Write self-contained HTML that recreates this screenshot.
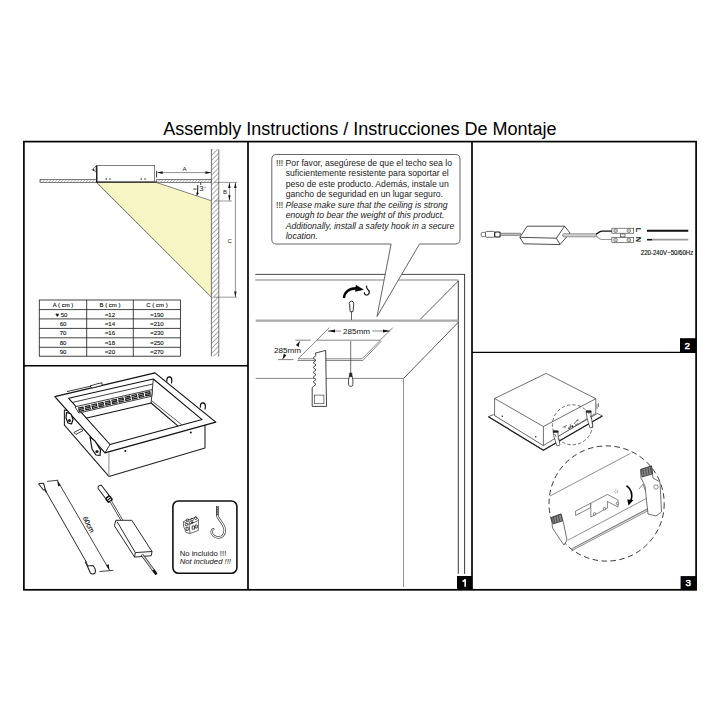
<!DOCTYPE html>
<html><head><meta charset="utf-8"><title>Assembly Instructions</title>
<style>
html,body{margin:0;padding:0;background:#fff;width:720px;height:720px;overflow:hidden}
svg{display:block}
text{font-family:"Liberation Sans",sans-serif}
</style></head><body>
<svg width="720" height="720" viewBox="0 0 720 720">
<defs>
<pattern id="hatch" patternUnits="userSpaceOnUse" width="3.5" height="3.5" patternTransform="rotate(45)">
<line x1="0" y1="0" x2="0" y2="3.5" stroke="#333" stroke-width="0.8"/>
</pattern>
<pattern id="hatch2" patternUnits="userSpaceOnUse" width="2.2" height="2.2" patternTransform="rotate(45)">
<line x1="0" y1="0" x2="0" y2="3" stroke="#666" stroke-width="0.8"/>
</pattern>
</defs>

<!-- Title -->
<text x="163.3" y="135" font-size="18" fill="#000">Assembly Instructions / Instrucciones De Montaje</text>

<!-- ============ PANEL TL ============ -->
<g id="tl">
<!-- ceiling slab -->
<rect x="40" y="179.4" width="56.5" height="3" fill="url(#hatch2)" stroke="#555" stroke-width="0.75"/>
<rect x="156.7" y="179.4" width="54.5" height="3" fill="url(#hatch2)" stroke="#555" stroke-width="0.75"/>
<!-- light cone -->
<polygon points="96.7,182.6 156.7,182.6 211.2,200.7 211.2,297" fill="#F6F5C3"/>
<line x1="96.7" y1="182.6" x2="211.2" y2="297" stroke="#444" stroke-width="0.75"/>
<line x1="156.7" y1="182.6" x2="211.2" y2="200.7" stroke="#555" stroke-width="0.7"/>
<!-- box -->
<rect x="96.5" y="165.5" width="58.2" height="16.6" fill="#fff" stroke="#444" stroke-width="0.7"/>
<line x1="96.8" y1="166" x2="96.8" y2="182.5" stroke="#111" stroke-width="1.3"/>
<line x1="96" y1="182.2" x2="157" y2="182.2" stroke="#222" stroke-width="1.2"/>
<path d="M96,166 L92.5,169.5 L96,172 Z" fill="none" stroke="#333" stroke-width="0.6"/>
<circle cx="93.5" cy="170" r="0.9" fill="#222"/>
<g fill="#222"><circle cx="106.2" cy="179" r="0.75"/><circle cx="110" cy="179" r="0.75"/><circle cx="141.2" cy="179" r="0.75"/><circle cx="145" cy="179" r="0.75"/></g>
<!-- wall -->
<rect x="211.4" y="149.2" width="7.4" height="207.2" fill="url(#hatch)"/>
<path d="M211.4,149.2 V356.4 M218.8,149.2 V356.4" stroke="#555" stroke-width="0.8"/>
<!-- dimension A -->
<line x1="156.6" y1="170.8" x2="156.6" y2="177.5" stroke="#222" stroke-width="0.9"/>
<line x1="157.5" y1="172.6" x2="211" y2="172.6" stroke="#444" stroke-width="0.6"/>
<path d="M157.2,172.6 l5.5,-1.3 v2.6z M211,172.6 l-5.5,-1.3 v2.6z" fill="#111"/>
<text x="184.5" y="171" font-size="6.2" fill="#222" text-anchor="middle">A</text>
<!-- angle -->
<text x="193" y="190.6" font-size="6.5" fill="#222">≈</text>
<path d="M197.8,185 L197.6,193.3" stroke="#111" stroke-width="1"/>
<path d="M196.3,192.6 L198.9,193.1 L196.8,196.3 Z" fill="#111"/>
<text x="199.3" y="191.4" font-size="7.8" fill="#222">3</text>
<path d="M200.6,182.6 L200.8,185" stroke="#111" stroke-width="0.8"/>
<circle cx="205" cy="187.6" r="0.7" fill="none" stroke="#777" stroke-width="0.4"/>
<!-- dimension B, C -->
<line x1="214.6" y1="182.4" x2="237.2" y2="182.4" stroke="#555" stroke-width="0.6"/>
<line x1="214.6" y1="201" x2="232" y2="201" stroke="#555" stroke-width="0.6"/>
<line x1="214" y1="297.2" x2="237" y2="297.2" stroke="#555" stroke-width="0.6"/>
<line x1="229.4" y1="182.6" x2="229.4" y2="200.5" stroke="#444" stroke-width="0.6"/>
<path d="M229.4,182.6 l-1.2,5.5 h2.4z M229.4,200.8 l-1.2,-5.5 h2.4z" fill="#111"/>
<line x1="235.4" y1="182.6" x2="235.4" y2="297" stroke="#444" stroke-width="0.6"/>
<path d="M235.4,182.6 l-1.2,5.5 h2.4z M235.4,297 l-1.2,-5.5 h2.4z" fill="#111"/>
<text x="224.9" y="194.3" font-size="6" fill="#222" text-anchor="middle">B</text>
<text x="229.6" y="242.8" font-size="6" fill="#222" text-anchor="middle">C</text>
<!-- table -->
<g stroke="#222" stroke-width="0.85" fill="none">
<rect x="39.3" y="300" width="141.1" height="56.2"/>
<line x1="39.3" y1="309.6" x2="180.4" y2="309.6"/>
<line x1="39.3" y1="318.9" x2="180.4" y2="318.9"/>
<line x1="39.3" y1="328.4" x2="180.4" y2="328.4"/>
<line x1="39.3" y1="337.8" x2="180.4" y2="337.8"/>
<line x1="39.3" y1="347.3" x2="180.4" y2="347.3"/>
<line x1="86.7" y1="300" x2="86.7" y2="356.2"/>
<line x1="133.3" y1="300" x2="133.3" y2="356.2"/>
</g>
<g font-size="6" fill="#111" stroke="#111" stroke-width="0.12" text-anchor="middle">
<text x="63" y="307.3">A ( cm )</text><text x="110" y="307.3">B ( cm )</text><text x="157" y="307.3">C ( cm )</text>
<text x="61.5" y="316.6">♥ 50</text><text x="110" y="316.6">≈12</text><text x="157" y="316.6">≈190</text>
<text x="63" y="326">60</text><text x="110" y="326">≈14</text><text x="157" y="326">≈210</text>
<text x="63" y="335.4">70</text><text x="110" y="335.4">≈16</text><text x="157" y="335.4">≈230</text>
<text x="63" y="344.9">80</text><text x="110" y="344.9">≈18</text><text x="157" y="344.9">≈250</text>
<text x="63" y="354.3">90</text><text x="110" y="354.3">≈20</text><text x="157" y="354.3">≈270</text>
</g>
</g>

<!-- ============ PANEL MID ============ -->
<g id="mid">
<!-- room -->
<g fill="none">
<line x1="255.3" y1="274.4" x2="464.6" y2="274.4" stroke="#333" stroke-width="0.9"/>
<line x1="464.6" y1="274" x2="464.6" y2="573.8" stroke="#222" stroke-width="0.9"/>
<line x1="255.3" y1="280" x2="458.3" y2="280" stroke="#aaa" stroke-width="1.3"/>
<line x1="458.3" y1="280.5" x2="458.3" y2="573.8" stroke="#222" stroke-width="0.9"/>
<line x1="458.3" y1="281" x2="420" y2="319.6" stroke="#333" stroke-width="0.8"/>
<line x1="255.7" y1="320.6" x2="458.3" y2="320.6" stroke="#aaa" stroke-width="2.2"/>
<line x1="458.3" y1="322.3" x2="403.5" y2="378.5" stroke="#333" stroke-width="0.8"/>
<line x1="255.7" y1="378.4" x2="403.5" y2="378.4" stroke="#666" stroke-width="0.8"/>
<line x1="403.5" y1="378.4" x2="403.5" y2="587" stroke="#777" stroke-width="0.8"/>
</g>
<!-- hole -->
<g fill="none" stroke="#555" stroke-width="0.7">
<path d="M317,340.2 L380.4,340.2 L362,358.8 L298,358.8 Z"/>
<path d="M381.3,341.2 L362.8,360.5 L297.5,360.5"/>
</g>
<!-- top 285mm dim -->
<g stroke="#333" stroke-width="0.6" fill="none">
<line x1="317" y1="340" x2="329.3" y2="327.6"/>
<line x1="380.4" y1="340" x2="392.8" y2="327.6"/>
<line x1="328" y1="331" x2="341" y2="331"/>
<line x1="372.5" y1="331" x2="390" y2="331"/>
<line x1="295.3" y1="340.2" x2="310.6" y2="340.2"/>
<line x1="278" y1="359.6" x2="293.5" y2="359.6"/>
<line x1="299.8" y1="341.3" x2="297" y2="345"/>
<line x1="284.5" y1="356.5" x2="282.5" y2="359.2"/>
</g>
<path d="M328,331 l7,-1.6 v3.2z M390,331 l-7,-1.6 v3.2z" fill="#111"/>
<path d="M299.8,341.3 l-1.2,5.6 l-2.6,-2z M282.6,359.2 l1.2,-5.6 l2.6,2z" fill="#111"/>
<text x="356.6" y="333.8" font-size="8.1" fill="#111" text-anchor="middle">285mm</text>
<text x="287.5" y="352.8" font-size="8.1" fill="#111" text-anchor="middle">285mm</text>
<!-- wire + clip -->
<line x1="350.7" y1="341" x2="350.7" y2="373" stroke="#444" stroke-width="0.75"/>
<path d="M349.4,376.2 L352.1,376.2 L352.9,380 L352.9,384.3 Q352.9,386.4 350.7,386.4 Q348.5,386.4 348.5,384.3 L348.5,380 Z" fill="#fff" stroke="#222" stroke-width="0.8"/>
<path d="M349.6,373 L351.8,373 L352.1,376.4 L349.4,376.4 Z" fill="#222" stroke="#222" stroke-width="0.6"/>
<!-- saw -->
<path d="M315.3,353.1 L325.7,350.4 L326.2,386 L326.6,406.4 L312.2,406.4 L312.2,387.5 L313.2,386.7 L316.0,384.3 L313.2,381.9 L316.0,379.5 L313.2,377.1 L316.0,374.7 L313.2,372.3 L316.0,369.9 L313.2,367.5 L316.0,365.1 L313.2,362.7 L316.0,360.3 L313.2,357.9 L316.0,355.5 Z" fill="#fff" stroke="#222" stroke-width="0.85" stroke-linejoin="miter"/>
<rect x="314.4" y="395.1" width="9.5" height="8.6" fill="none" stroke="#444" stroke-width="0.7"/>
<!-- bolt top -->
<line x1="351.5" y1="311.5" x2="351.5" y2="320" stroke="#333" stroke-width="0.75"/>
<path d="M349.3,303.5 Q349.3,301.2 351.6,301.2 Q353.8,301.2 353.8,303.8 L353,311.6 L350.2,311.8 Z" fill="#fff" stroke="#222" stroke-width="0.85"/>
<path d="M350.1,304 L350.6,310.5" stroke="#999" stroke-width="0.6"/>
<!-- curved arrow -->
<path d="M343.9,298 Q345,288.6 356.5,288.2" fill="none" stroke="#000" stroke-width="2.4"/>
<path d="M355.8,284.8 L363.8,289.8 L355.2,291.8 Z" fill="#000"/>
<!-- hookmid -->
<path d="M366.6,285.6 q-0.6,2.6 1.4,4.2 q2.6,2.3 0.2,4.6 q-2.6,1.6 -3.8,-0.9 v-1.2" fill="none" stroke="#000" stroke-width="1.15"/>
<!-- speech bubble -->
<path d="M276.4,154.5 H455.4 Q460,154.5 460,159.1 V239.4 Q460,244 455.4,244 H419.5 L377,316.5 L391.1,244 H276.4 Q271.8,244 271.8,239.4 V159.1 Q271.8,154.5 276.4,154.5 Z" fill="#fff" stroke="#555" stroke-width="0.9"/>
<g font-size="8.65" fill="#222">
<text x="276" y="166">!!! Por favor, asegúrese de que el techo sea lo</text>
<text x="285.7" y="176.4">suficientemente resistente para soportar el</text>
<text x="285.7" y="186.8">peso de este producto. Además, instale un</text>
<text x="285.7" y="197.2">gancho de seguridad en un lugar seguro.</text>
<text x="276" y="207.6">!!! <tspan font-style="italic">Please make sure that the ceiling is strong</tspan></text>
<text x="285.7" y="218" font-style="italic">enough to bear the weight of this product.</text>
<text x="285.7" y="228.5" font-style="italic">Additionally, install a safety hook in a secure</text>
<text x="285.7" y="238.9" font-style="italic">location.</text>
</g>
</g>

<!-- ============ PANEL TR ============ -->
<g id="tr">
<!-- connector -->
<rect x="481.1" y="232.4" width="5" height="4.2" rx="1.5" fill="#fff" stroke="#333" stroke-width="0.7"/>
<rect x="485.6" y="231.4" width="9.1" height="5.9" rx="1" fill="#fff" stroke="#333" stroke-width="0.7"/>
<rect x="494.7" y="232" width="5.5" height="5" rx="1" fill="#fff" stroke="#111" stroke-width="1.1"/>
<rect x="500.2" y="233.1" width="20.5" height="2.2" fill="#bbb" stroke="#444" stroke-width="0.5"/>
<!-- driver box -->
<path d="M527.2,226.2 L564.6,226.2 L570,233 L560,244.6 L523.8,243.8 L519.8,237.3 Z" fill="#fff" stroke="#222" stroke-width="0.8" stroke-linejoin="round"/>
<path d="M519.8,237.3 L556.4,238.2 L564.6,226.2 M556.4,238.2 L560,244.6" fill="none" stroke="#222" stroke-width="0.8"/>
<!-- output cable -->
<rect x="562.5" y="233.7" width="34" height="3.2" rx="1.6" fill="#ccc" stroke="#555" stroke-width="0.5"/>
<path d="M596,234.2 C598.5,233.6 598.5,231.3 602,231.2 L612,231.2" fill="none" stroke="#111" stroke-width="1.2"/>
<path d="M596,236.4 C598.5,237.2 598.5,239.4 602,239.5 L612,239.5" fill="none" stroke="#999" stroke-width="1.2"/>
<!-- terminal block -->
<g fill="#fff" stroke="#333" stroke-width="0.6">
<rect x="611.9" y="228.2" width="21.8" height="5"/>
<rect x="611.9" y="237.5" width="21.8" height="5"/>
<rect x="620.5" y="234" width="4.5" height="2.8"/>
<circle cx="615.6" cy="230.7" r="1.8"/><circle cx="628.8" cy="230.7" r="1.8"/>
<circle cx="615.6" cy="240" r="1.8"/><circle cx="628.8" cy="240" r="1.8"/>
</g>
<g fill="none" stroke="#666" stroke-width="0.4">
<circle cx="615.6" cy="230.7" r="0.8"/><circle cx="628.8" cy="230.7" r="0.8"/>
<circle cx="615.6" cy="240" r="0.8"/><circle cx="628.8" cy="240" r="0.8"/>
</g>
<text x="0" y="0" font-size="7.4" font-weight="bold" fill="#111" transform="translate(636.2,227.8) rotate(90)">L</text>
<text x="0" y="0" font-size="7.4" font-weight="bold" fill="#111" transform="translate(636.2,236.8) rotate(90)">N</text>
<line x1="647" y1="230.8" x2="688.3" y2="230.8" stroke="#111" stroke-width="1.9"/>
<line x1="647" y1="239.7" x2="652.4" y2="239.7" stroke="#111" stroke-width="1.6"/>
<line x1="652" y1="239.7" x2="688.3" y2="239.7" stroke="#999" stroke-width="1.8"/>
<text x="640.8" y="255.1" font-size="6.7" fill="#111" stroke="#111" stroke-width="0.15" textLength="52.5" lengthAdjust="spacingAndGlyphs">220-240V~50/60Hz</text>
</g>

<!-- ============ PANEL BR ============ -->
<g id="br" stroke-linejoin="round">
<!-- flange -->
<path d="M488.4,416.7 L543.4,450.2 L602.3,416 L597.5,413.5 L543.4,444.5 L493.5,414.6 Z" fill="#fff" stroke="#333" stroke-width="0.7"/>
<path d="M488.4,416.7 L543.4,450.2 L602.3,416" fill="none" stroke="#222" stroke-width="1.3"/>
<!-- box -->
<path d="M494.6,398.5 L546.1,373.4 L595.8,398.7 L595.8,413.3 L543.4,445.6 L494.6,415.6 Z" fill="#fff" stroke="#333" stroke-width="0.7"/>
<path d="M494.6,398.5 L543.4,426.5 L595.8,398.7 M543.4,426.5 L543.4,445.6" fill="none" stroke="#333" stroke-width="0.7"/>
<circle cx="502.3" cy="416.3" r="0.8" fill="#333"/><circle cx="535.7" cy="436.7" r="0.8" fill="#333"/>
<!-- label on side -->
<g stroke="#333" stroke-width="0.6" fill="none">
<path d="M562.5,427.5 L567,425.3 M565,426 L565,428.5 M568.5,427.5 L572.5,425.5 M570.3,424.2 L570.5,428 M574,424 L577.5,419.5 M575,425 L578,423.5 M576.5,421 L578.8,420"/>
</g>
<circle cx="572.5" cy="426.4" r="0.9" fill="#222"/><circle cx="569" cy="428.2" r="0.8" fill="#222"/>
<!-- clips small -->
<path d="M553,431 h5 v4 l2,10 l-3,1 l-3,-9 z" fill="#fff" stroke="#333" stroke-width="0.7"/>
<rect x="553" y="430.5" width="5.3" height="2.2" fill="#222"/>
<path d="M586,411 h5 v4 l2,12 l-3,1 l-3,-10 z" fill="#fff" stroke="#333" stroke-width="0.7"/>
<rect x="586" y="410.5" width="5.3" height="2.2" fill="#222"/>
<path d="M597,404 v5 M598.5,403 v4" stroke="#333" stroke-width="0.6"/>
<!-- small dashed circle -->
<circle cx="572.4" cy="424.8" r="20" fill="none" stroke="#333" stroke-width="0.7" stroke-dasharray="3.5,2"/>
<!-- big dashed circle -->
<circle cx="606.6" cy="503.5" r="57.6" fill="#fff" stroke="#222" stroke-width="0.9" stroke-dasharray="5.5,3.5"/>
<g stroke="#444" stroke-width="0.6" fill="none">
<line x1="550" y1="496" x2="630.3" y2="453.5"/>
<line x1="568" y1="540.2" x2="648.3" y2="497.4"/>
<line x1="571" y1="551" x2="658" y2="505.5"/>
</g>
<line x1="572.5" y1="548.5" x2="656" y2="504.5" stroke="#888" stroke-width="1.4"/>
<!-- bracket -->
<g fill="#fff" stroke="#333" stroke-width="0.6">
<path d="M575.6,511 L590.8,503.2 L590.8,507.6 L575.6,515.4 Z"/>
<path d="M590.8,503.2 L607.4,494.4 L618,500 L618,507 L607.4,501.5 L607.4,508 L590.8,517 Z"/>
<circle cx="594.6" cy="513.8" r="1.2"/><circle cx="604.5" cy="508.7" r="1.2"/>
<circle cx="616" cy="491.5" r="1.6" stroke-dasharray="1,1"/><circle cx="617.5" cy="503.5" r="1.2"/>
</g>
<!-- curved arrow in circle -->
<path d="M626.5,485.6 Q634,491 631,501" fill="none" stroke="#000" stroke-width="1.6"/>
<path d="M627.3,499.5 L633.5,500 L628.5,505.5 Z" fill="#000"/>
<!-- right clip -->
<path d="M640.5,469.5 L651.5,466 L653,478 L660,482 L661.5,512 L656,516 L648,514 L645,486 L641,478 Z" fill="#fff" stroke="#333" stroke-width="0.7"/>
<path d="M641,469.5 L651.5,466 L652.5,474 L642,477 Z" fill="#888" stroke="#222" stroke-width="0.7"/>
<path d="M643,469.5 l1,6 M645.5,468.7 l1,6 M648,468 l1,6 M650.3,467.2 l1,6" stroke="#222" stroke-width="0.6"/>
<circle cx="656" cy="487" r="2.2" fill="none" stroke="#444" stroke-width="0.6"/>
<path d="M639,489 L643,484 L645,490" fill="none" stroke="#444" stroke-width="0.6"/>
<!-- left clip -->
<path d="M551.5,517.5 L561,514 L563.5,523 L567,540 L564,545 L559,538 L552.5,528 Z" fill="#fff" stroke="#333" stroke-width="0.7"/>
<path d="M551.5,517.5 L561,514 L562.5,521 L553,524 Z" fill="#888" stroke="#222" stroke-width="0.7"/>
<path d="M553.5,517 l1,6 M556,516.2 l1,6 M558.5,515.3 l1,6" stroke="#222" stroke-width="0.6"/>
</g>

<!-- ============ PANEL BL ============ -->
<g id="bl" stroke-linejoin="round">
<!-- body -->
<path d="M64.4,410 L64.4,425.1 L108.9,476.4 L205,447.9 L205,424.4 Z" fill="#fff" stroke="#222" stroke-width="1.08"/>
<line x1="108.9" y1="453" x2="108.9" y2="476.4" stroke="#888" stroke-width="0.96"/>
<!-- frame outer -->
<path d="M54.8,396.6 L155,372.9 L215.8,422.1 L105,452.8 Z" fill="#fff" stroke="#111" stroke-width="1.20"/>
<!-- inner walls / floor -->
<path d="M68.7,398.3 L153.3,379 L202.1,419.6 L110,444.5 Z" fill="#fff" stroke="#111" stroke-width="1.08"/>
<line x1="110" y1="444.5" x2="105" y2="452.8" stroke="#222" stroke-width="0.96"/>
<path d="M85.8,418.3 L151.1,403 L177.8,425.8" fill="none" stroke="#111" stroke-width="1.08"/>
<path d="M151.3,400.5 L181.7,424.7" fill="none" stroke="#1a1a1a" stroke-width="0.72"/>
<line x1="153.3" y1="379" x2="151.1" y2="403" stroke="#1a1a1a" stroke-width="0.84"/>
<!-- back-left wall lines -->
<path d="M72.5,402.4 L152.8,384" fill="none" stroke="#222" stroke-width="0.84"/>
<!-- LED strip -->
<path d="M75,406.8 L152.3,389.5 L151.8,396.2 L78.8,413 Z" fill="#fff" stroke="#111" stroke-width="0.8"/>
<path transform="translate(81.14,409.23) rotate(-12.6)" d="M-2.9,-1.7 H2.3 V0 H-2.3 V1.7 H2.9" fill="none" stroke="#222" stroke-width="1.3"/>
<path transform="translate(87.81,407.68) rotate(-12.6)" d="M-2.9,-1.7 H2.3 V0 H-2.3 V1.7 H2.9" fill="none" stroke="#222" stroke-width="1.3"/>
<path transform="translate(94.48,406.14) rotate(-12.6)" d="M-2.9,-1.7 H2.3 V0 H-2.3 V1.7 H2.9" fill="none" stroke="#222" stroke-width="1.3"/>
<path transform="translate(101.15,404.59) rotate(-12.6)" d="M-2.9,-1.7 H2.3 V0 H-2.3 V1.7 H2.9" fill="none" stroke="#222" stroke-width="1.3"/>
<path transform="translate(107.83,403.05) rotate(-12.6)" d="M-2.9,-1.7 H2.3 V0 H-2.3 V1.7 H2.9" fill="none" stroke="#222" stroke-width="1.3"/>
<path transform="translate(114.50,401.50) rotate(-12.6)" d="M-2.9,-1.7 H2.3 V0 H-2.3 V1.7 H2.9" fill="none" stroke="#222" stroke-width="1.3"/>
<path transform="translate(121.17,399.95) rotate(-12.6)" d="M-2.9,-1.7 H2.3 V0 H-2.3 V1.7 H2.9" fill="none" stroke="#222" stroke-width="1.3"/>
<path transform="translate(127.85,398.41) rotate(-12.6)" d="M-2.9,-1.7 H2.3 V0 H-2.3 V1.7 H2.9" fill="none" stroke="#222" stroke-width="1.3"/>
<path transform="translate(134.52,396.86) rotate(-12.6)" d="M-2.9,-1.7 H2.3 V0 H-2.3 V1.7 H2.9" fill="none" stroke="#222" stroke-width="1.3"/>
<path transform="translate(141.19,395.32) rotate(-12.6)" d="M-2.9,-1.7 H2.3 V0 H-2.3 V1.7 H2.9" fill="none" stroke="#222" stroke-width="1.3"/>
<path transform="translate(147.86,393.77) rotate(-12.6)" d="M-2.9,-1.7 H2.3 V0 H-2.3 V1.7 H2.9" fill="none" stroke="#222" stroke-width="1.3"/>
<!-- dots -->
<circle cx="125.3" cy="451.1" r="1" fill="#111"/><circle cx="190.8" cy="432.5" r="1" fill="#111"/>
<path d="M67,391.6 L91.5,386" fill="none" stroke="#1a1a1a" stroke-width="0.84"/>
<!-- ears -->
<g fill="#fff" stroke="#1a1a1a" stroke-width="0.84">
<path stroke="#000" stroke-width="1.1" d="M166.8,381.6 L166.9,379.5 Q167.3,376.8 169.4,376.9 Q171.8,377.2 171.9,380 L171.5,383.4"/>
<path stroke="#000" stroke-width="1.1" d="M200.3,407.6 L200.4,405.5 Q200.8,402.8 202.9,402.9 Q205.3,403.2 205.4,406 L205,409.4"/>
<path d="M90,386 L98,383.6 L102,382.8 L102,385.5 L92,388 Z"/>
<path d="M74,432.5 L81,428.8 L83,430.5 L76,434.5 Z"/>
</g>
<!-- clips on side -->
<g fill="#fff" stroke="#111" stroke-width="1.20">
<path d="M66.5,412.5 L71,414 L73,419.5 L71.5,424 L68,423 L66,418 Z"/>
<path d="M90,437 L95,441 L100.5,450 L100,455.5 L96,455 L92,449 Z"/>
</g>
<circle cx="69.5" cy="420.5" r="1.5" fill="#222"/><circle cx="97" cy="451.5" r="1.6" fill="#222"/>

<!-- hanging wire -->
<path d="M38.6,484 Q40.5,483 43.6,483.4 L45.3,489.5 L43.5,490 Z" fill="#fff" stroke="#222" stroke-width="1.08" stroke-linejoin="round"/>
<path d="M45,489.5 L46.5,492.5" stroke="#222" stroke-width="1.65"/>
<line x1="46" y1="491.5" x2="86.3" y2="562" stroke="#222" stroke-width="0.96"/>
<path d="M85.4,561.6 L87.6,566" stroke="#222" stroke-width="1.60"/>
<path d="M87.3,566 L93,565.5 Q96.5,570 95,573 Q92.5,575 90.5,573.2 Z" fill="#fff" stroke="#222" stroke-width="1.08" stroke-linejoin="round"/>
<!-- 60cm dim -->
<line x1="57.3" y1="480.4" x2="109.5" y2="570.3" stroke="#222" stroke-width="0.84"/>
<line x1="46.9" y1="481.4" x2="58.3" y2="480.2" stroke="#222" stroke-width="0.84"/>
<line x1="99.5" y1="571.5" x2="113.3" y2="570.3" stroke="#222" stroke-width="0.84"/>
<path d="M57.3,480.4 l0.9,6.2 l2.3,-1.3z M109.5,570.3 l-0.9,-6.2 l-2.3,1.3z" fill="#111"/>
<text x="0" y="0" font-size="7" fill="#111" stroke="#111" stroke-width="0.15" text-anchor="middle" transform="translate(86.4,525.6) rotate(62)">60cm</text>
<!-- driver -->
<g transform="translate(100.3,487.6) rotate(53)"><rect x="-2.2" y="-2.3" width="15" height="4.6" rx="2.2" fill="#fff" stroke="#222" stroke-width="1.02"/><rect x="12" y="-2.4" width="4.8" height="4.8" rx="0.8" fill="#fff" stroke="#111" stroke-width="1.55"/><line x1="14.4" y1="-1.5" x2="14.4" y2="1.5" stroke="#111" stroke-width="1.20"/></g>
<path d="M110.6,501 L122,520.5" stroke="#1a1a1a" stroke-width="2.40"/>
<path d="M110.6,501 L122,520.5" stroke="#fff" stroke-width="1.08"/>
<path d="M115.8,520.3 L131.8,520.3 L152,551.5 L151.3,555.7 L134.6,557.1 L114.4,525.8 Z" fill="#fff" stroke="#222" stroke-width="0.96"/>
<path d="M117,521.5 L135.3,552.6 L152,551.5 M135.3,552.6 L134.6,557.1" fill="none" stroke="#222" stroke-width="0.96"/>
<path d="M141.8,554.5 L155.5,573" stroke="#1a1a1a" stroke-width="2.80"/>
<path d="M141.8,554.5 L155.5,573" stroke="#ccc" stroke-width="1.44"/>
<path d="M153.3,570 L156.5,574.5" stroke="#111" stroke-width="2.40"/>

<!-- not included box -->
<rect x="172.9" y="501" width="64" height="72.3" rx="5.5" fill="#fff" stroke="#111" stroke-width="1.6"/>
<g font-size="7.7" fill="#111">
<text x="179.7" y="555.8">No incluido !!!</text>
<text x="179.7" y="564" font-style="italic">Not included !!!</text>
</g>
<!-- terminal icon -->
<g fill="#fff" stroke="#333" stroke-width="0.7">
<path d="M183.5,521.5 L192.5,518.5 L196,516.5 L198.5,519.5 L198.3,530.5 L190,533.5 L186,532.5 L183.5,526 Z"/>
<path d="M183.5,521.5 L189,524.5 L198.3,520.5 M189,524.5 L190,533.5"/>
</g>
<g fill="none" stroke="#222" stroke-width="0.8">
<circle cx="187.5" cy="520.3" r="1.4"/><circle cx="192" cy="519.6" r="1.3"/><circle cx="195.7" cy="518.3" r="1.2"/>
<circle cx="186.3" cy="524.6" r="1.2"/><circle cx="190.5" cy="522.7" r="1.2"/>
<rect x="186" y="527.3" width="2.2" height="3"/><rect x="192.2" y="526" width="2.3" height="3.2"/><rect x="195.3" y="525" width="2" height="3"/>
</g>
<circle cx="192.6" cy="522.4" r="1" fill="#222"/>
<!-- hookbl -->
<path d="M217.4,506 L217.4,515.5" stroke="#444" stroke-width="2.8"/>
<path d="M217.4,506.5 L217.4,515" stroke="#ccc" stroke-width="1" stroke-dasharray="0.8,0.9"/>
<path d="M217.4,515.5 C217.8,519 224.5,524 224.8,530 C225,535 221.5,537.5 218.2,537.5 C214.5,537.5 211.6,534.5 211.6,532 C211.6,530.5 212.2,529.6 213.3,529.2" fill="none" stroke="#444" stroke-width="2.5" stroke-linecap="round"/>
<path d="M217.4,515.5 C217.8,519 224.5,524 224.8,530 C225,535 221.5,537.5 218.2,537.5 C214.5,537.5 211.6,534.5 211.6,532 C211.6,530.5 212.2,529.6 213.3,529.2" fill="none" stroke="#fff" stroke-width="1.1" stroke-linecap="round"/>
</g>

<!-- ============ FRAME ============ -->
<g stroke="#000" fill="none">
<rect x="23.9" y="141.6" width="672.2" height="448.2" stroke-width="1.7"/>
<line x1="248" y1="141.6" x2="248" y2="589.8" stroke-width="1.7"/>
<line x1="472" y1="141.6" x2="472" y2="589.8" stroke-width="1.7"/>
<line x1="23.9" y1="365.8" x2="248" y2="365.8" stroke-width="1.6"/>
<line x1="472" y1="352.4" x2="696" y2="352.4" stroke-width="1.2"/>
</g>
<rect x="457" y="576" width="15" height="14" fill="#000"/>
<path d="M465.2,579.2 V586.8 M465.2,579.4 Q464.4,581 462.4,581.6" fill="none" stroke="#fff" stroke-width="1.6"/>
<rect x="680" y="338.2" width="16" height="14.6" fill="#000"/>
<text x="687.3" y="349.1" font-size="9.8" fill="#fff" stroke="#fff" stroke-width="0.5" text-anchor="middle">2</text>
<rect x="680.6" y="576.1" width="15.7" height="14" fill="#000"/>
<text x="688.2" y="586.3" font-size="9.8" fill="#fff" stroke="#fff" stroke-width="0.5" text-anchor="middle">3</text>
</svg>
</body></html>
